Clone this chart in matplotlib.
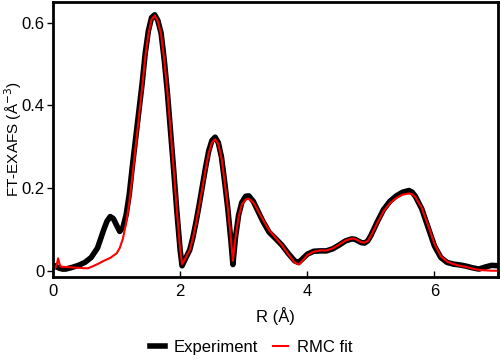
import matplotlib
matplotlib.use('Agg')
import matplotlib.pyplot as plt

plt.rcParams['font.family'] = ['Liberation Sans', 'DejaVu Sans']

# experiment
r_exp = [0.05, 0.10, 0.15, 0.20, 0.30, 0.40, 0.50, 0.60, 0.70, 0.80, 0.85, 0.90,
         0.95, 1.00, 1.05, 1.10, 1.15, 1.20, 1.25, 1.30, 1.35, 1.40, 1.45, 1.50,
         1.55, 1.60, 1.65, 1.70, 1.75, 1.80, 1.85, 1.90, 1.95, 2.00, 2.03, 2.07,
         2.15, 2.20, 2.25, 2.30, 2.35, 2.40, 2.45, 2.50, 2.55, 2.60, 2.65, 2.70,
         2.75, 2.80, 2.83, 2.87, 2.92, 2.97, 3.03, 3.08, 3.15, 3.20, 3.30, 3.40,
         3.50, 3.60, 3.70, 3.80, 3.86, 3.92, 4.00, 4.10, 4.20, 4.30, 4.40, 4.50,
         4.60, 4.70, 4.75, 4.85, 4.90, 4.95, 5.00, 5.10, 5.20, 5.30, 5.40, 5.50,
         5.60, 5.65, 5.70, 5.80, 5.90, 6.00, 6.10, 6.20, 6.30, 6.40, 6.50, 6.60,
         6.70, 6.80, 6.90, 7.00]
ft_exp = [0.010, 0.006, 0.004, 0.004, 0.008, 0.013, 0.020, 0.032, 0.055, 0.100, 0.120, 0.131,
          0.126, 0.110, 0.095, 0.105, 0.135, 0.185, 0.255, 0.320, 0.385, 0.450, 0.525, 0.580,
          0.612, 0.619, 0.605, 0.575, 0.510, 0.430, 0.335, 0.240, 0.140, 0.050, 0.012, 0.025,
          0.050, 0.080, 0.118, 0.160, 0.205, 0.250, 0.290, 0.315, 0.323, 0.310, 0.275, 0.215,
          0.150, 0.070, 0.015, 0.080, 0.135, 0.165, 0.180, 0.181, 0.168, 0.152, 0.120, 0.093,
          0.078, 0.062, 0.042, 0.024, 0.020, 0.028, 0.040, 0.047, 0.048, 0.048, 0.053, 0.062,
          0.072, 0.077, 0.076, 0.068, 0.067, 0.072, 0.085, 0.118, 0.148, 0.168, 0.181, 0.190,
          0.194, 0.190, 0.180, 0.150, 0.105, 0.060, 0.032, 0.020, 0.016, 0.014, 0.011, 0.007,
          0.004, 0.009, 0.013, 0.012]

# RMC fit
r_fit = [0.03, 0.06, 0.08, 0.10, 0.12, 0.20, 0.30, 0.40, 0.50, 0.55, 0.60, 0.70,
         0.80, 0.90, 1.00, 1.05, 1.10, 1.15, 1.20, 1.25, 1.30, 1.35, 1.40, 1.45,
         1.50, 1.55, 1.60, 1.65, 1.70, 1.75, 1.80, 1.85, 1.90, 1.95, 2.00, 2.03,
         2.07, 2.15, 2.20, 2.25, 2.30, 2.35, 2.40, 2.45, 2.50, 2.55, 2.60, 2.65,
         2.70, 2.75, 2.80, 2.83, 2.87, 2.92, 2.97, 3.03, 3.08, 3.15, 3.20, 3.30,
         3.40, 3.50, 3.60, 3.70, 3.80, 3.87, 3.93, 4.00, 4.10, 4.20, 4.30, 4.40,
         4.50, 4.60, 4.70, 4.75, 4.85, 4.90, 4.95, 5.00, 5.10, 5.20, 5.30, 5.40,
         5.50, 5.60, 5.65, 5.70, 5.80, 5.90, 6.00, 6.10, 6.20, 6.30, 6.40, 6.50,
         6.60, 6.70, 6.80, 6.90, 7.00]
ft_fit = [0.005, 0.015, 0.030, 0.018, 0.010, 0.009, 0.008, 0.007, 0.006, 0.006, 0.009, 0.016,
          0.024, 0.031, 0.042, 0.055, 0.078, 0.115, 0.165, 0.230, 0.300, 0.370, 0.440, 0.515,
          0.572, 0.608, 0.617, 0.603, 0.572, 0.510, 0.432, 0.338, 0.242, 0.142, 0.052, 0.016,
          0.026, 0.050, 0.078, 0.115, 0.156, 0.200, 0.245, 0.285, 0.310, 0.318, 0.307, 0.273,
          0.215, 0.152, 0.075, 0.024, 0.080, 0.130, 0.160, 0.172, 0.174, 0.165, 0.152, 0.124,
          0.098, 0.080, 0.062, 0.040, 0.020, 0.015, 0.025, 0.038, 0.046, 0.049, 0.049, 0.054,
          0.063, 0.073, 0.078, 0.077, 0.069, 0.068, 0.072, 0.084, 0.115, 0.144, 0.163, 0.176,
          0.184, 0.187, 0.185, 0.178, 0.152, 0.110, 0.065, 0.035, 0.022, 0.016, 0.012, 0.009,
          0.005, 0.002, 0.001, 0.000, 0.000]

fig = plt.figure(figsize=(5, 3.62), dpi=100)
ax = fig.add_axes([0.106, 0.235, 0.89, 0.7595])

ax.plot(r_exp, ft_exp, color='black', lw=4, label='Experiment', solid_joinstyle='round')
ax.plot(r_fit, ft_fit, color='red', lw=1.5, label='RMC fit')

ax.set_xlim(0, 7)
ax.set_ylim(-0.015, 0.65)
ax.set_xticks([0, 2, 4, 6])
ax.set_yticks([0, 0.2, 0.4, 0.6])
ax.set_yticklabels(['0', '0.2', '0.4', '0.6'])
ax.tick_params(axis='x', direction='in', length=4, width=1, labelsize=12, pad=5)
ax.tick_params(axis='y', direction='out', length=4, width=1, labelsize=12, pad=2)
for s in ax.spines.values():
    s.set_linewidth(2)

ax.set_xlabel('R (Å)', fontsize=12, labelpad=6)
ax.set_ylabel('FT-EXAFS (Å$^{-3}$)', fontsize=11)
ax.yaxis.set_label_coords(-0.066, 0.5)

fig.legend(loc='center', bbox_to_anchor=(0.502, 0.041), ncol=2, frameon=False,
           fontsize=12, handlelength=0.9, handletextpad=0.55, columnspacing=0.85)

fig.savefig('out.png', dpi=100)
